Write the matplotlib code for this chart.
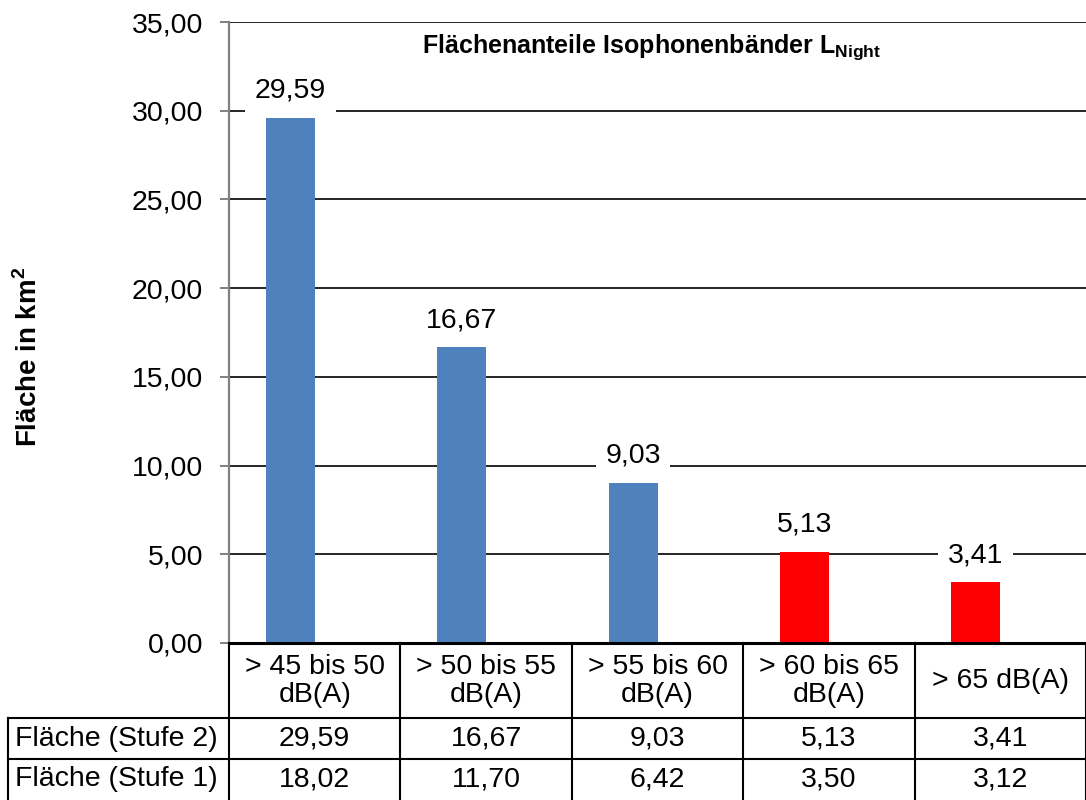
import numpy as np
import matplotlib
matplotlib.use("Agg")
import matplotlib.pyplot as plt
from matplotlib.lines import Line2D
from matplotlib import transforms

plt.rcParams['font.family'] = ['Liberation Sans', 'DejaVu Sans']
plt.rcParams['mathtext.fontset'] = 'custom'
plt.rcParams['mathtext.rm'] = 'Liberation Sans'
plt.rcParams['mathtext.bf'] = 'Liberation Sans:bold'

# data
categories = ["> 45 bis 50\ndB(A)", "> 50 bis 55\ndB(A)", "> 55 bis 60\ndB(A)",
              "> 60 bis 65\ndB(A)", "> 65 dB(A)"]
stufe2 = [29.59, 16.67, 9.03, 5.13, 3.41]
stufe1 = [18.02, 11.70, 6.42, 3.50, 3.12]
row_labels = ["Fläche (Stufe 2)", "Fläche (Stufe 1)"]
bar_colors = ["#4F81BD", "#4F81BD", "#4F81BD", "#FF0000", "#FF0000"]
yticks = [0, 5, 10, 15, 20, 25, 30, 35]


def de(v):
    return f"{v:.2f}".replace(".", ",")


W, H = 1086, 800
FS = 20.5
fig = plt.figure(figsize=(W / 100, H / 100), dpi=100)
ax = fig.add_axes([229 / W, 1 - 643 / H, 857 / W, 621 / H])

x = np.arange(len(categories))
bw = 1 / 3.5  # excel gap width 150%
ax.bar(x - bw / 2, stufe2, bw, color=bar_colors, zorder=3)
# second series is in the table only, bars not shown
ax.bar(x + bw / 2, stufe1, bw, color='none', edgecolor='none', zorder=3)

for xi, v in zip(x, stufe2):
    ax.annotate(de(v), (xi - bw / 2, v), xytext=(0, 27), textcoords='offset pixels',
                ha='center', va='center', fontsize=FS, zorder=2,
                bbox=dict(fc='white', ec='none', pad=7))

ax.set_xlim(-0.5, len(categories) - 0.5)
ax.set_ylim(0, 35)
ax.set_yticks(yticks)
ax.set_yticklabels([de(t) for t in yticks])
ax.set_xticks([])
ax.yaxis.grid(True, color='black', lw=1.2, zorder=0)
ax.set_axisbelow(True)
for s in ['top', 'right', 'bottom']:
    ax.spines[s].set_visible(False)
ax.spines['left'].set_color('#808080')
ax.spines['left'].set_linewidth(1.6)
ax.tick_params(axis='y', length=6.5, width=1.4, color='#808080', pad=12, labelsize=FS)

fig.text(652 / W, 1 - 47 / H, r"Flächenanteile Isophonenbänder L$_\mathbf{Night}$",
         ha='center', va='center', fontsize=18, fontweight='bold')
fig.text(29 / W, 1 - 357 / H, r"Fläche in km$^\mathbf{2}$", rotation=90, ha='center',
         va='center', fontsize=20, fontweight='bold')

# data table below the plot
tr = transforms.blended_transform_factory(ax.transData, fig.transFigure)
fy = lambda p: 1 - p / H
edges = np.arange(len(categories) + 1) - 0.5
top, hdr, r1, r2 = 643, 718, 759, 800

fig.add_artist(Line2D([229 / W, 1], [fy(top)] * 2, color='black', lw=2.2,
                      transform=fig.transFigure))
for yy in [hdr, r1]:
    fig.add_artist(Line2D([8 / W, 1], [fy(yy)] * 2, color='black', lw=1.5,
                          transform=fig.transFigure))
fig.add_artist(Line2D([8 / W, 8 / W], [fy(hdr), 0], color='black', lw=1.5,
                      transform=fig.transFigure))
for e in edges:
    fig.add_artist(Line2D([e, e], [fy(top), 0], color='black', lw=1.5, transform=tr))

for xi, cat in zip(x, categories):
    fig.text(xi, fy((top + hdr) / 2 + 1), cat, transform=tr, ha='center', va='center',
             fontsize=FS, linespacing=1.1)
rows = [stufe2, stufe1]
ycen = [(hdr + r1) / 2, (r1 + r2) / 2]
for lab, vals, yc in zip(row_labels, rows, ycen):
    fig.text(15 / W, fy(yc), lab, ha='left', va='center', fontsize=FS)
    for xi, v in zip(x, vals):
        fig.text(xi, fy(yc), de(v), transform=tr, ha='center', va='center', fontsize=FS)

fig.savefig("out.png", dpi=100)
